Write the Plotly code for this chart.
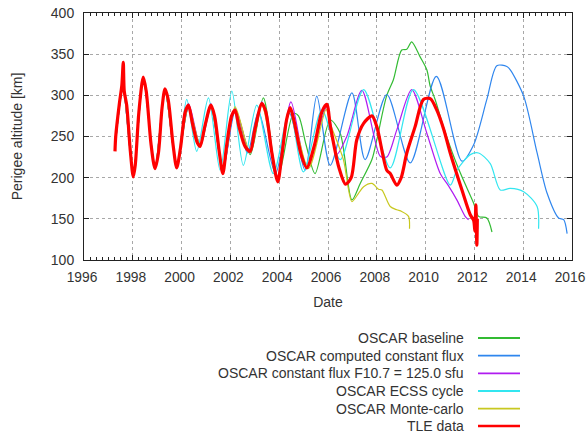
import plotly.graph_objects as go

# ---------------- data (decimal year, perigee altitude km) ----------------
tle_year = [1997.27, 1997.30, 1997.45, 1997.55, 1997.61, 1997.65, 1997.75, 1997.90, 1998.02, 1998.10,
            1998.25, 1998.43, 1998.55, 1998.75, 1998.91, 1999.05, 1999.20, 1999.32, 1999.45, 1999.65,
            1999.80, 1999.95, 2000.15, 2000.28, 2000.45, 2000.65, 2000.76, 2000.95, 2001.20, 2001.35,
            2001.55, 2001.69, 2001.85, 2002.05, 2002.19, 2002.35, 2002.60, 2002.81, 2003.00, 2003.29,
            2003.45, 2003.70, 2003.94, 2004.10, 2004.30, 2004.45, 2004.60, 2004.90, 2005.13, 2005.45,
            2005.75, 2005.95, 2006.10, 2006.45, 2006.72, 2006.95, 2007.18, 2007.46, 2007.80, 2008.00,
            2008.41, 2008.55, 2008.82, 2009.00, 2009.23, 2009.57, 2009.91, 2010.19, 2010.46, 2010.75,
            2011.01, 2011.49, 2011.83, 2011.97, 2012.02, 2012.06, 2012.10, 2012.12]
tle_km = [232, 250, 290, 312, 340, 305, 288, 232, 201, 215,
          280, 322, 305, 240, 211, 230, 285, 308, 295, 240,
          212, 235, 280, 288, 265, 242, 238, 262, 288, 275,
          230, 205, 240, 275, 282, 262, 238, 232, 258, 290,
          280, 230, 195, 225, 270, 285, 270, 228, 212, 240,
          280, 289, 262, 212, 192, 200, 246, 266, 275, 262,
          209, 205, 191, 200, 230, 262, 295, 296, 282, 258,
          230, 185, 155, 148, 135, 167, 118, 150]

base_year = [1997.30, 1997.60, 1998.02, 1998.43, 1998.91, 1999.32, 1999.80, 2000.28, 2000.76, 2001.20,
             2001.69, 2002.19, 2002.81, 2003.35, 2003.94, 2004.58, 2004.79, 2005.10, 2005.47, 2006.09,
             2006.50, 2006.98, 2007.32, 2007.80, 2008.00, 2008.40, 2008.68, 2009.02, 2009.23, 2009.43,
             2009.77, 2010.05, 2010.19, 2010.39, 2010.73, 2011.15, 2011.49, 2011.97, 2012.17, 2012.51,
             2012.72]
base_km = [245, 308, 205, 320, 213, 305, 215, 285, 240, 287,
           210, 284, 228, 297, 200, 278, 275, 240, 205, 270,
           254, 173, 193, 222, 246, 299, 319, 355, 356, 365,
           347, 331, 311, 295, 262, 226, 201, 169, 153, 151,
           134]

cflux_year = [1997.30, 1997.60, 1998.02, 1998.43, 1998.91, 1999.32, 1999.80, 2000.28, 2000.76, 2001.20,
              2001.69, 2002.19, 2002.70, 2003.15, 2003.85, 2004.42, 2005.06, 2005.54, 2006.09, 2006.98,
              2007.52, 2008.41, 2009.37, 2010.44, 2011.49, 2011.97, 2012.51, 2012.92, 2013.33, 2013.47,
              2014.02, 2014.57, 2014.98, 2015.45, 2015.66, 2015.80]
cflux_km = [245, 308, 205, 320, 213, 305, 215, 284, 238, 285,
            210, 280, 230, 280, 205, 278, 209, 299, 215, 303,
            222, 301, 218, 323, 220, 240, 295, 336, 335, 331,
            299, 230, 181, 151, 149, 132]

f107_year = [1997.30, 1997.60, 1998.02, 1998.43, 1998.91, 1999.32, 1999.80, 2000.28, 2000.76, 2001.20,
             2001.69, 2002.19, 2002.81, 2003.29, 2003.94, 2004.48, 2005.13, 2005.95, 2006.35, 2006.77,
             2007.39, 2008.14, 2008.41, 2008.82, 2009.43, 2010.05, 2010.60, 2010.94, 2011.28, 2011.62,
             2011.76]
f107_km = [245, 308, 205, 320, 213, 306, 215, 290, 240, 290,
           208, 284, 230, 292, 202, 292, 213, 286, 228, 250,
           306, 226, 225, 258, 307, 254, 205, 190, 173, 153,
           149]

ecss_year = [1997.30, 1997.60, 1998.02, 1998.43, 1998.91, 1999.32, 1999.80, 2000.21, 2000.62, 2001.10,
             2001.58, 2002.06, 2002.53, 2003.08, 2003.76, 2004.42, 2004.99, 2005.75, 2006.50, 2007.46,
             2008.55, 2009.50, 2011.01, 2011.28, 2011.83, 2012.17, 2012.65, 2013.06, 2013.47, 2014.02,
             2014.57, 2014.63]
ecss_km = [245, 308, 205, 320, 213, 305, 215, 295, 232, 297,
           209, 305, 215, 288, 205, 282, 207, 282, 222, 307,
           212, 307, 191, 209, 228, 230, 217, 185, 187, 183,
           165, 138]

mc_year = [1997.30, 1997.60, 1998.02, 1998.43, 1998.91, 1999.32, 1999.80, 2000.28, 2000.76, 2001.20,
           2001.69, 2002.19, 2002.81, 2003.29, 2003.94, 2004.45, 2005.20, 2005.92, 2006.09, 2006.63,
           2006.98, 2007.25, 2007.46, 2007.80, 2008.07, 2008.21, 2008.55, 2008.82, 2009.02, 2009.30,
           2009.34]
mc_km = [245, 310, 205, 320, 213, 305, 215, 286, 240, 286,
         210, 286, 230, 288, 200, 282, 211, 283, 266, 222,
         171, 181, 189, 193, 186, 185, 165, 161, 159, 153,
         138]

series = [
    ("OSCAR baseline", base_year, base_km, "#33bb33", 1.2),
    ("OSCAR computed constant flux", cflux_year, cflux_km, "#2f86ee", 1.2),
    ("OSCAR constant flux F10.7 = 125.0 sfu", f107_year, f107_km, "#b01cf0", 1.2),
    ("OSCAR ECSS cycle", ecss_year, ecss_km, "#33e6f0", 1.2),
    ("OSCAR Monte-carlo", mc_year, mc_km, "#c8c820", 1.2),
    ("TLE data", tle_year, tle_km, "#ff0000", 3.2),
]

x_ticks = list(range(1996, 2017, 2))
y_ticks = list(range(100, 401, 50))

FONT = "Liberation Sans, Arial, sans-serif"
TXT = "#333333"

fig = go.Figure()
for name, xs, ys, col, w in series:
    fig.add_trace(go.Scatter(x=xs, y=ys, mode="lines", name=name,
                             line=dict(color=col, width=w, shape="spline", smoothing=0.8),
                             showlegend=False))

# manual legend (text on the left, sample line on the right, like gnuplot)
L, R, T, B = 84, 14, 13, 174
W, H = 586, 434
pw, ph = W - L - R, H - T - B
row_y = [338, 355.7, 373.3, 391, 408.7, 426]
for (name, xs, ys, col, w), py in zip(series, row_y):
    yp = (H - B - py) / ph
    fig.add_annotation(x=(466 - L) / pw, y=yp, xref="paper", yref="paper",
                       text=name, showarrow=False, xanchor="right", yanchor="middle",
                       font=dict(family=FONT, size=14, color=TXT))
    fig.add_shape(type="line", xref="paper", yref="paper",
                  x0=(478 - L) / pw, x1=(520 - L) / pw, y0=yp, y1=yp,
                  line=dict(color=col, width=2.5 if w > 2 else 1.8))

fig.update_layout(
    width=W, height=H,
    margin=dict(l=L, r=R, t=T, b=B, autoexpand=False),
    paper_bgcolor="white", plot_bgcolor="white",
    font=dict(family=FONT, size=14, color=TXT),
    showlegend=False,
)
fig.update_xaxes(range=[1996, 2016], tickvals=x_ticks, ticktext=[str(v) for v in x_ticks],
                 ticklabeloverflow="allow", ticklabelstandoff=4, ticklabelshift=-2, automargin=False,
                 showgrid=True, gridcolor="#a8a8a8", griddash="dot", gridwidth=1,
                 showline=True, linecolor="#222222", linewidth=1, mirror="allticks",
                 ticks="inside", ticklen=5, tickcolor="#222222",
                 minor=dict(dtick=0.25, tick0=1996, ticks="inside", ticklen=3, tickcolor="#222222", showgrid=False),
                 title=dict(text="Date", standoff=13, font=dict(size=14, color=TXT)),
                 zeroline=False, tickfont=dict(size=13.8, color=TXT))
fig.update_yaxes(range=[100, 400], tickvals=y_ticks, ticktext=[str(v) for v in y_ticks],
                 automargin=False,
                 showgrid=True, gridcolor="#a8a8a8", griddash="dot", gridwidth=1,
                 showline=True, linecolor="#222222", linewidth=1, mirror="allticks",
                 ticks="inside", ticklen=5, tickcolor="#222222",
                 title=dict(text="Perigee altitude [km]", standoff=24, font=dict(size=14, color=TXT)),
                 zeroline=False, tickfont=dict(size=14, color=TXT), ticklabelstandoff=6)

fig.write_html("out.html")
